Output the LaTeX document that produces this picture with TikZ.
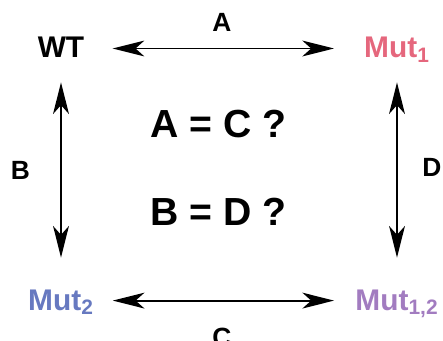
\documentclass[tikz,border=0pt]{standalone}
\usepackage{fontspec}
\setmainfont{Liberation Sans}
\usepackage{xcolor}
\usetikzlibrary{arrows.meta}
\definecolor{mutone}{HTML}{E5677D}
\definecolor{muttwo}{HTML}{6779C0}
\definecolor{mutboth}{HTML}{A27CC0}

\begin{document}
\begin{tikzpicture}[
    x=0.02cm, y=-0.02cm,
    strain/.style={font=\fontsize{17}{20}\selectfont\bfseries, inner sep=0pt, text height=12.2pt, text depth=1.5pt},
    edgelabel/.style={font=\fontsize{15}{18}\selectfont\bfseries, inner sep=0pt},
    question/.style={font=\fontsize{22.3}{26}\selectfont\bfseries, inner sep=0pt},
    arr/.style={{Stealth[length=18pt, width=9pt, inset=5pt]}-{Stealth[length=18pt, width=9pt, inset=5pt]}, line width=1.1pt}
]
    \useasboundingbox (0,0) rectangle (443,341);
    \clip (0,0) rectangle (443,341);

    \node[strain] (wt) at (61,48.5) {WT};
    \node[strain, color=mutone] (mut1) at (397,48.5) {Mut\textsubscript{1}};
    \node[strain, color=muttwo] (mut2) at (61,300.6) {Mut\textsubscript{2}};
    \node[strain, color=mutboth] (mut12) at (397,300.6) {Mut\textsubscript{1,2}};

    \draw[arr, shorten <=16pt, shorten >=17pt] (wt) -- (mut1);
    \draw[arr, shorten <=10.6pt, shorten >=12pt] (mut2) -- (mut12);
    \draw[arr, shorten <=12.2pt, shorten >=17.4pt] (wt) -- (mut2);
    \draw[arr, shorten <=12.2pt, shorten >=17.4pt] (mut1) -- (mut12);

    % Edge names
    \node[edgelabel] (la) at (222,22) {A};
    \node[edgelabel] (lb) at (20.5,170) {B};
    \node[edgelabel] (lc) at (222,337.5) {C};
    \node[edgelabel] (ld) at (432,167.5) {D};

    \node[question] (q1) at (218.5,124) {A = C ?};
    \node[question] (q2) at (218.5,211.5) {B = D ?};
\end{tikzpicture}
\end{document}
